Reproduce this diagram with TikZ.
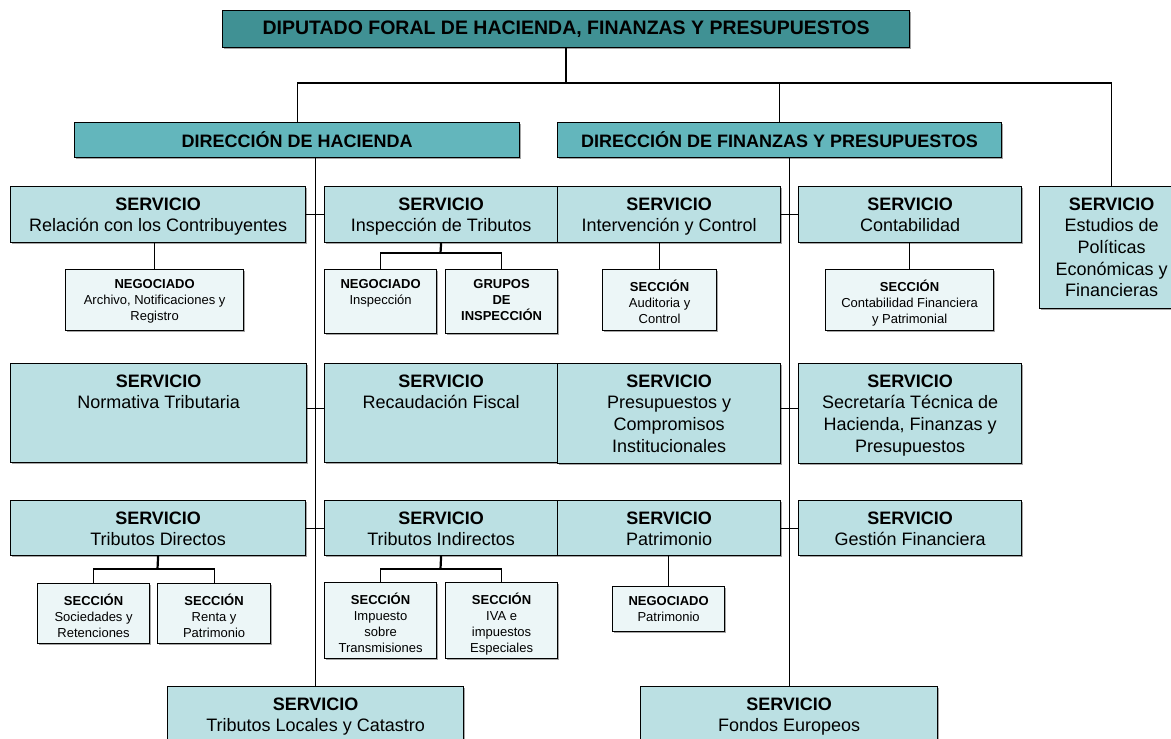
\documentclass[tikz,border=0pt]{standalone}
\usepackage{fontspec}
\setmainfont{Liberation Sans}
\usetikzlibrary{positioning,shadows}

\definecolor{tealdark}{RGB}{64,145,148}
\definecolor{tealmid}{RGB}{99,182,188}
\definecolor{teallight}{RGB}{187,224,227}
\definecolor{tealpale}{RGB}{236,246,247}

\tikzset{
  box/.style={draw=black, line width=1.2pt, inner sep=0pt, anchor=north west,
    drop shadow={shadow xshift=1.3pt, shadow yshift=-1.3pt, fill=black!35, opacity=1}},
  topbox/.style={box, fill=tealdark, font=\fontsize{19.5}{23}\selectfont\bfseries},
  dirbox/.style={box, fill=tealmid, font=\fontsize{18}{22}\selectfont\bfseries},
  servbox/.style={box, fill=teallight},
  subbox/.style={box, fill=tealpale},
  servtext/.style={anchor=north, align=center, inner sep=0pt, yshift=-11.5pt,
    font=\fontsize{18}{21.6}\selectfont},
  subtext/.style={anchor=north, align=center, inner sep=0pt, yshift=-10.3pt,
    font=\fontsize{13}{16}\selectfont},
  link/.style={line width=1.2pt},
  stem/.style={line width=2.2pt},
}

\begin{document}
\begin{tikzpicture}[x=1pt, y=-1pt]
\useasboundingbox (0,0) rectangle (1171,739);

% top and directions
\node[topbox, minimum width=687pt, minimum height=37pt] (diputado) at (222,10) {DIPUTADO FORAL DE HACIENDA, FINANZAS Y PRESUPUESTOS};
\node[dirbox, minimum width=445pt, minimum height=35pt] (dirH) at (74,122) {DIRECCIÓN DE HACIENDA};
\node[dirbox, minimum width=444pt, minimum height=35pt] (dirF) at (557,122) {DIRECCIÓN DE FINANZAS Y PRESUPUESTOS};
\node[servbox, minimum width=144pt, minimum height=122pt, label={[servtext]north:{\textbf{SERVICIO}\\Estudios de\\Políticas\\Económicas y\\Financieras}}] (estudios) at (1039,186) {};

% hacienda
\node[servbox, minimum width=295pt, minimum height=56pt, label={[servtext]north:{\textbf{SERVICIO}\\Relación con los Contribuyentes}}] (relacion) at (10,186) {};
\node[servbox, minimum width=233pt, minimum height=56pt, label={[servtext]north:{\textbf{SERVICIO}\\Inspección de Tributos}}] (inspeccion) at (324,186) {};
\node[servbox, minimum width=296pt, minimum height=99pt, label={[servtext]north:{\textbf{SERVICIO}\\Normativa Tributaria}}] (normativa) at (10,363) {};
\node[servbox, minimum width=233pt, minimum height=99pt, label={[servtext]north:{\textbf{SERVICIO}\\Recaudación Fiscal}}] (recaudacion) at (324,363) {};
\node[servbox, minimum width=295pt, minimum height=55pt, label={[servtext]north:{\textbf{SERVICIO}\\Tributos Directos}}] (directos) at (10,500) {};
\node[servbox, minimum width=233pt, minimum height=55pt, label={[servtext]north:{\textbf{SERVICIO}\\Tributos Indirectos}}] (indirectos) at (324,500) {};
\node[servbox, minimum width=296pt, minimum height=56pt, label={[servtext]north:{\textbf{SERVICIO}\\Tributos Locales y Catastro}}] (locales) at (167,686) {};

\node[subbox, minimum width=178pt, minimum height=61pt, label={[subtext]north:{\textbf{NEGOCIADO}\\Archivo, Notificaciones y\\Registro}}] (negArchivo) at (65,269) {};
\node[subbox, minimum width=112pt, minimum height=64pt, label={[subtext]north:{\textbf{NEGOCIADO}\\Inspección}}] (negInspeccion) at (324,269) {};
\node[subbox, minimum width=112pt, minimum height=64pt, label={[subtext]north:{\textbf{GRUPOS}\\\textbf{DE}\\\textbf{INSPECCIÓN}}}] (grupos) at (445,269) {};
\node[subbox, minimum width=112pt, minimum height=60pt, label={[subtext]north:{\textbf{SECCIÓN}\\Sociedades y\\Retenciones}}] (secSociedades) at (37,583) {};
\node[subbox, minimum width=113pt, minimum height=60pt, label={[subtext]north:{\textbf{SECCIÓN}\\Renta y\\Patrimonio}}] (secRenta) at (157,583) {};
\node[subbox, minimum width=112pt, minimum height=76pt, label={[subtext]north:{\textbf{SECCIÓN}\\Impuesto\\sobre\\Transmisiones}}] (secImpuesto) at (324,582) {};
\node[subbox, minimum width=112pt, minimum height=76pt, label={[subtext]north:{\textbf{SECCIÓN}\\IVA e\\impuestos\\Especiales}}] (secIVA) at (445,582) {};

% finanzas
\node[servbox, minimum width=223pt, minimum height=56pt, label={[servtext]north:{\textbf{SERVICIO}\\Intervención y Control}}] (intervencion) at (557,186) {};
\node[servbox, minimum width=223pt, minimum height=56pt, label={[servtext]north:{\textbf{SERVICIO}\\Contabilidad}}] (contabilidad) at (798,186) {};
\node[servbox, minimum width=223pt, minimum height=100pt, label={[servtext]north:{\textbf{SERVICIO}\\Presupuestos y\\Compromisos\\Institucionales}}] (presupuestos) at (557,363) {};
\node[servbox, minimum width=223pt, minimum height=100pt, label={[servtext]north:{\textbf{SERVICIO}\\Secretaría Técnica de\\Hacienda, Finanzas y\\Presupuestos}}] (secretaria) at (798,363) {};
\node[servbox, minimum width=223pt, minimum height=55pt, label={[servtext]north:{\textbf{SERVICIO}\\Patrimonio}}] (patrimonio) at (557,500) {};
\node[servbox, minimum width=223pt, minimum height=55pt, label={[servtext]north:{\textbf{SERVICIO}\\Gestión Financiera}}] (gestion) at (798,500) {};
\node[servbox, minimum width=297pt, minimum height=56pt, label={[servtext]north:{\textbf{SERVICIO}\\Fondos Europeos}}] (fondos) at (640,686) {};

\node[subbox, minimum width=114pt, minimum height=61pt, label={[subtext]north:{\textbf{SECCIÓN}\\Auditoria y\\Control}}] (secAuditoria) at (602,269) {};
\node[subbox, minimum width=168pt, minimum height=61pt, label={[subtext]north:{\textbf{SECCIÓN}\\Contabilidad Financiera\\y Patrimonial}}] (secContab) at (825,269) {};
\node[subbox, minimum width=112pt, minimum height=45pt, label={[subtext]north:{\textbf{NEGOCIADO}\\Patrimonio}}] (negPatrimonio) at (612,586) {};

% connectors
\coordinate (bus) at (566,83);
\coordinate (forkI) at (440.5,253);
\coordinate (forkD) at (157.5,569);
\coordinate (forkT) at (440.5,569);

\draw[stem] (diputado.south) -- (diputado.south |- bus);
\draw[link] (dirH.north) |- (bus) -| (estudios.north);
\draw[link] (dirF.north) -- (dirF.north |- bus);

\draw[link] (dirH.south -| locales.north) -- (locales.north);
\draw[link] (dirF.south -| fondos.north) -- (fondos.north);

\draw[link] (relacion.east) -- (inspeccion.west);
\draw[link] ([yshift=4.5pt]normativa.east) -- ([yshift=4.5pt]recaudacion.west);
\draw[link] (directos.east) -- (indirectos.west);
\draw[link] (intervencion.east) -- (contabilidad.west);
\draw[link] ([yshift=5pt]presupuestos.east) -- ([yshift=5pt]secretaria.west);
\draw[link] (patrimonio.east) -- (gestion.west);

\draw[link] (negArchivo.north) -- (negArchivo.north |- relacion.south);
\draw[stem] (inspeccion.south) -- (forkI);
\draw[link] (negInspeccion.north) |- (forkI) -| (grupos.north);
\draw[stem] (directos.south) -- (forkD);
\draw[link] (secSociedades.north) |- (forkD) -| (secRenta.north);
\draw[stem] (indirectos.south) -- (forkT);
\draw[link] (secImpuesto.north) |- (forkT) -| (secIVA.north);

\draw[link] (secAuditoria.north) -- (secAuditoria.north |- intervencion.south);
\draw[link] (secContab.north) -- (secContab.north |- contabilidad.south);
\draw[link] (negPatrimonio.north) -- (negPatrimonio.north |- patrimonio.south);
\end{tikzpicture}
\end{document}
